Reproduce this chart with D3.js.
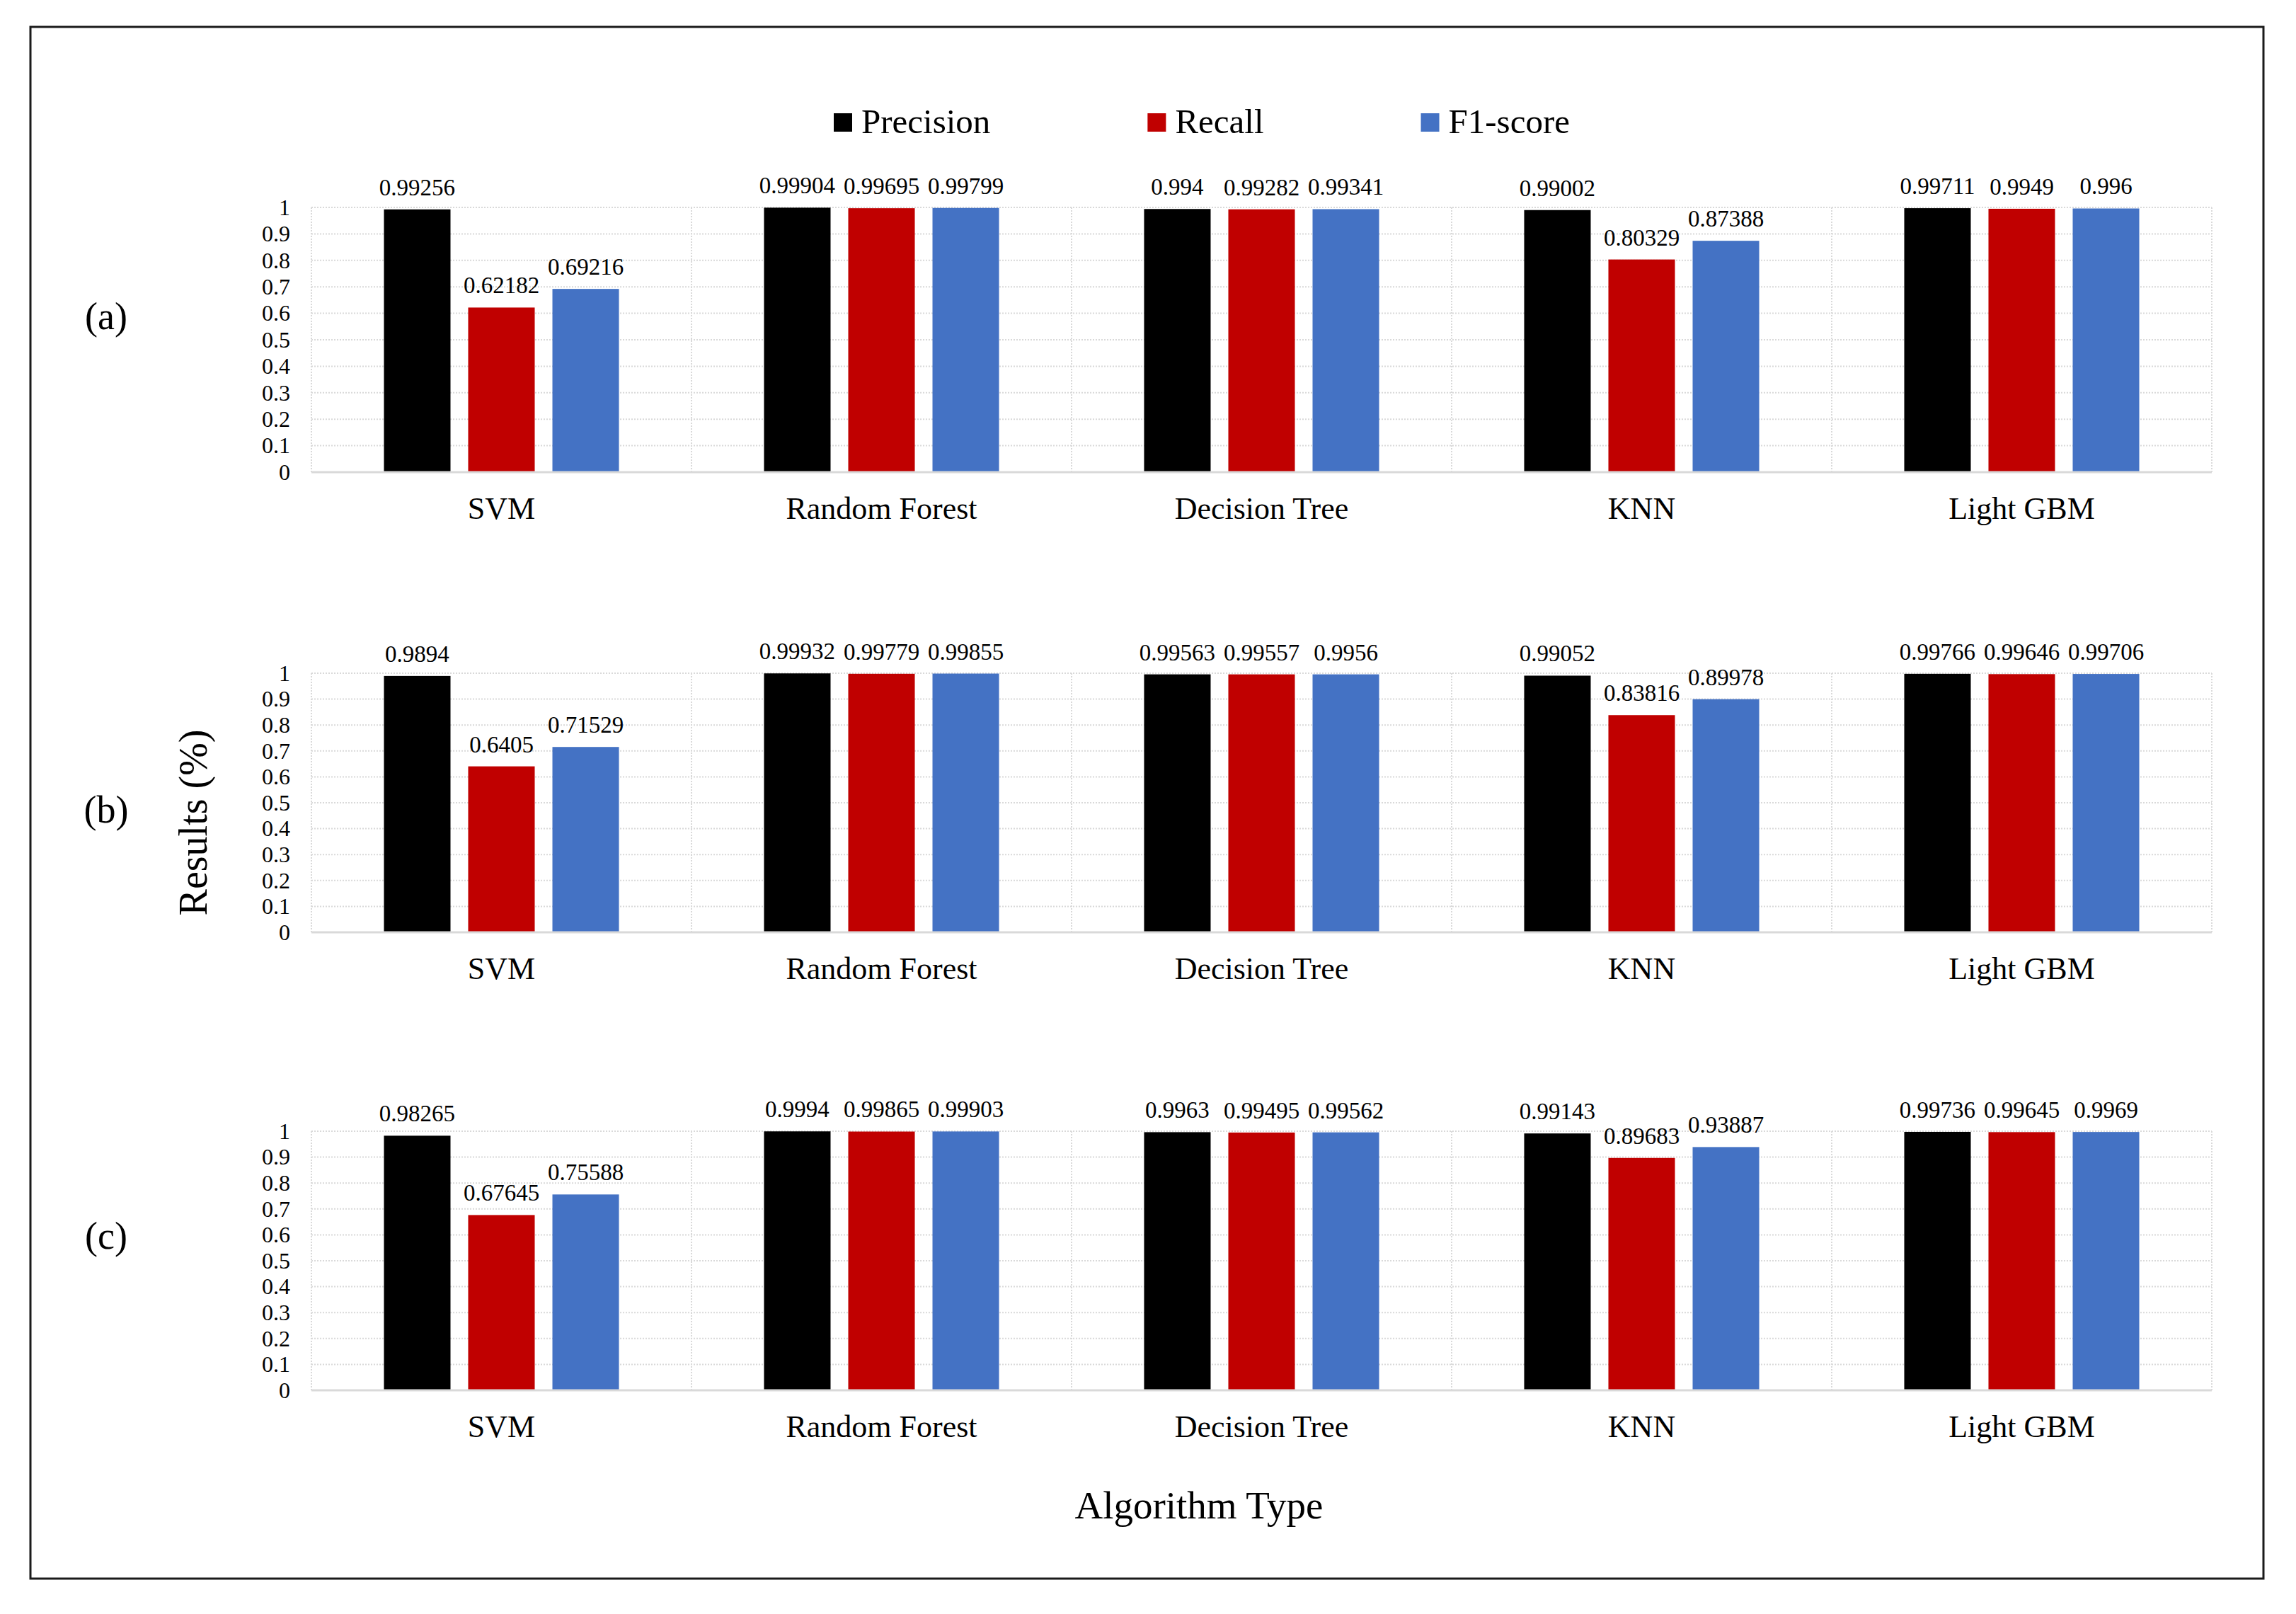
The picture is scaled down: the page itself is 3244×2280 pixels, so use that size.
<!DOCTYPE html>
<html>
<head>
<meta charset="utf-8">
<script src="https://cdn.jsdelivr.net/npm/d3@7"></script>
<style>
    body { margin: 0; background: #fff; }
    svg text { font-family: "Liberation Serif", "Times New Roman", serif; }
</style>
</head>
<body>
<script>
// chart values
var categories = ["SVM", "Random Forest", "Decision Tree", "KNN", "Light GBM"];
var seriesNames = ["Precision", "Recall", "F1-score"];
var seriesColors = ["#000000", "#c00000", "#4472c4"];
var panelNames = ["(a)", "(b)", "(c)"];
var yTicks = [0, 0.1, 0.2, 0.3, 0.4, 0.5, 0.6, 0.7, 0.8, 0.9, 1];

var precisionA = [0.99256, 0.99904, 0.994, 0.99002, 0.99711];
var recallA    = [0.62182, 0.99695, 0.99282, 0.80329, 0.9949];
var f1A        = [0.69216, 0.99799, 0.99341, 0.87388, 0.996];

var precisionB = [0.9894, 0.99932, 0.99563, 0.99052, 0.99766];
var recallB    = [0.6405, 0.99779, 0.99557, 0.83816, 0.99646];
var f1B        = [0.71529, 0.99855, 0.9956, 0.89978, 0.99706];

var precisionC = [0.98265, 0.9994, 0.9963, 0.99143, 0.99736];
var recallC    = [0.67645, 0.99865, 0.99495, 0.89683, 0.99645];
var f1C        = [0.75588, 0.99903, 0.99562, 0.93887, 0.9969];

var panelValues = [
    [precisionA, recallA, f1A],
    [precisionB, recallB, f1B],
    [precisionC, recallC, f1C]
];

// layout (pixels)
var W = 3244, H = 2280;
var plotLeft = 440, plotRight = 3125;
var panelTop = [293, 951, 1598],
    panelBottom = [667, 1317, 1964],
    panelLabelY = [465, 1162, 1764];

var svg = d3.select("body").append("svg")
    .attr("width", W)
    .attr("height", H);

svg.append("rect")
    .attr("width", W).attr("height", H)
    .attr("fill", "#fff");

// outer frame
svg.append("rect")
    .attr("x", 43).attr("y", 38)
    .attr("width", 3155).attr("height", 2192)
    .attr("fill", "none")
    .attr("stroke", "#1a1a1a")
    .attr("stroke-width", 3);

var x0 = d3.scaleBand().domain(categories).range([plotLeft, plotRight]);
var x1 = d3.scaleBand().domain(seriesNames)
    .range([0, x0.bandwidth()])
    .paddingInner(0.21)
    .paddingOuter(0.861);

panelValues.forEach(function(vals, p) {
    var y = d3.scaleLinear().domain([0, 1])
        .range([panelBottom[p], panelTop[p]]);
    var g = svg.append("g").attr("class", "panel");

    // horizontal gridlines
    g.append("g")
        .selectAll("line")
        .data(yTicks.slice(1))
        .enter().append("line")
        .attr("x1", plotLeft).attr("x2", plotRight)
        .attr("y1", function(d) { return y(d); })
        .attr("y2", function(d) { return y(d); })
        .attr("stroke", "#d9d9d9")
        .attr("stroke-width", 2)
        .attr("stroke-dasharray", "2,2");

    // vertical category separators
    var edges = categories.map(function(c) { return x0(c); }).concat([plotRight]);
    g.append("g")
        .selectAll("line")
        .data(edges)
        .enter().append("line")
        .attr("x1", function(d) { return d; })
        .attr("x2", function(d) { return d; })
        .attr("y1", y(1)).attr("y2", y(0))
        .attr("stroke", "#d9d9d9")
        .attr("stroke-width", 2)
        .attr("stroke-dasharray", "2,2");

    // bars
    var groups = g.append("g")
        .selectAll("g")
        .data(categories)
        .enter().append("g")
        .attr("transform", function(c) { return "translate(" + x0(c) + ",0)"; });

    groups.each(function(c, ci) {
        var rows = seriesNames.map(function(s, si) {
            return {s: s, v: vals[si][ci], color: seriesColors[si]};
        });
        var sel = d3.select(this);
        sel.selectAll("rect")
            .data(rows)
            .enter().append("rect")
            .attr("x", function(d) { return x1(d.s); })
            .attr("y", function(d) { return y(d.v); })
            .attr("width", x1.bandwidth())
            .attr("height", function(d) { return y(0) - y(d.v); })
            .attr("fill", function(d) { return d.color; });
        sel.selectAll("text")
            .data(rows)
            .enter().append("text")
            .attr("x", function(d) { return x1(d.s) + x1.bandwidth() / 2; })
            .attr("y", function(d) { return y(d.v) - 20; })
            .attr("text-anchor", "middle")
            .style("font-size", "33px")
            .text(function(d) { return String(d.v); });
    });

    // baseline
    g.append("line")
        .attr("x1", plotLeft).attr("x2", plotRight)
        .attr("y1", y(0)).attr("y2", y(0))
        .attr("stroke", "#d9d9d9")
        .attr("stroke-width", 3);

    // y axis labels
    var yAxis = d3.axisLeft(y).tickValues(yTicks)
        .tickSize(0).tickPadding(30)
        .tickFormat(function(d) { return String(d); });
    var gy = g.append("g")
        .attr("transform", "translate(" + plotLeft + ",0)")
        .call(yAxis);
    gy.select(".domain").remove();
    gy.selectAll("text")
        .style("font-size", "32px")
        .style("font-family", "'Liberation Serif', 'Times New Roman', serif")
        .attr("fill", "#000");

    // x axis labels
    var xAxis = d3.axisBottom(x0).tickSize(0).tickPadding(0);
    var gx = g.append("g")
        .attr("transform", "translate(0," + (y(0) + 66) + ")")
        .call(xAxis);
    gx.select(".domain").remove();
    gx.selectAll("text")
        .attr("dy", null)
        .attr("y", 0)
        .style("font-size", "44px")
        .style("font-family", "'Liberation Serif', 'Times New Roman', serif")
        .attr("fill", "#000");

    // panel tag
    svg.append("text")
        .attr("x", 150)
        .attr("y", panelLabelY[p])
        .attr("text-anchor", "middle")
        .style("font-size", "54px")
        .text(panelNames[p]);
});

// legend
var legend = svg.append("g").attr("class", "legend");
var lx = 1178;
seriesNames.forEach(function(s, i) {
    legend.append("rect")
        .attr("x", lx).attr("y", 160)
        .attr("width", 26).attr("height", 26)
        .attr("fill", seriesColors[i]);
    var t = legend.append("text")
        .attr("x", lx + 39).attr("y", 188)
        .style("font-size", "49px")
        .text(s);
    lx += 39 + t.node().getComputedTextLength() + 222;
});

// axis titles
svg.append("text")
    .attr("transform", "translate(292,1162) rotate(-90)")
    .attr("text-anchor", "middle")
    .style("font-size", "56px")
    .text("Results (%)");

svg.append("text")
    .attr("x", 1694).attr("y", 2145)
    .attr("text-anchor", "middle")
    .style("font-size", "55px")
    .text("Algorithm Type");
</script>
</body>
</html>
